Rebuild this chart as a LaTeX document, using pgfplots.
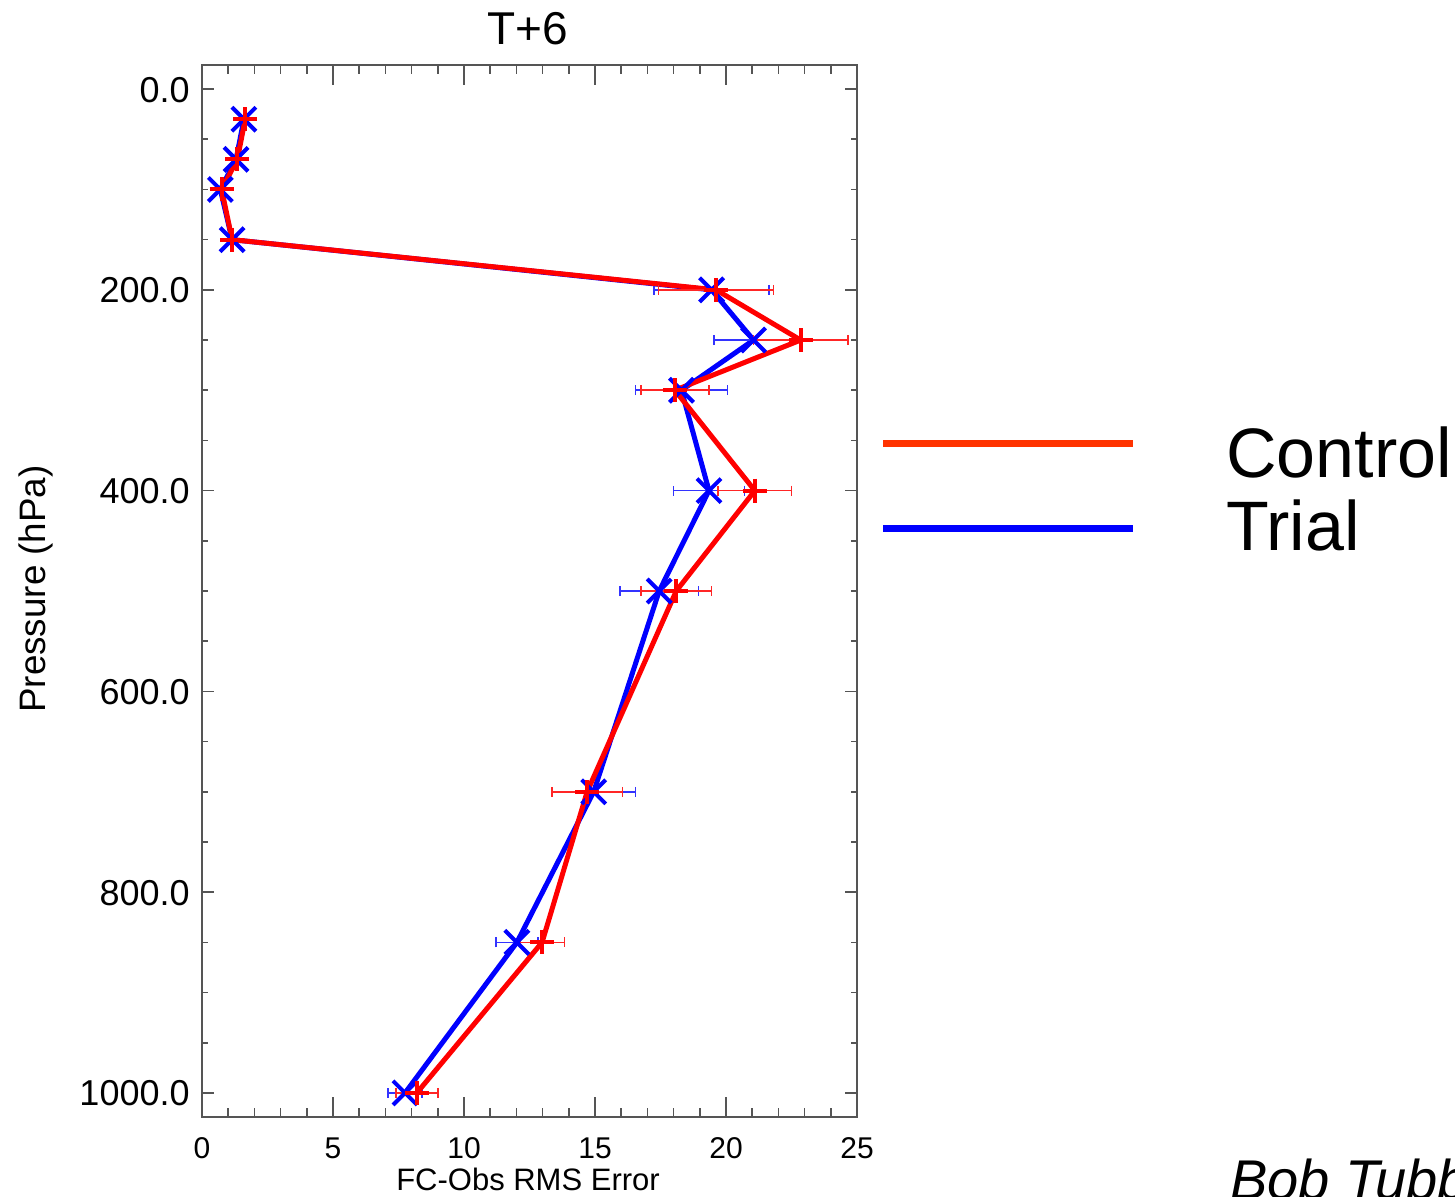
\documentclass[border=0pt]{standalone}
\usepackage{fontspec}
\setmainfont{Liberation Sans}
\usepackage{pgfplots}
\pgfplotsset{compat=1.18}
\definecolor{legred}{HTML}{FF3300}
\definecolor{axgray}{HTML}{555555}
\begin{document}
\begin{tikzpicture}
% main axis: data + y ticks
\begin{axis}[
  at={(101pt,-558.5pt)}, anchor=south west,
  scale only axis, width=327.5pt, height=526pt,
  xmin=0, xmax=25, ymin=-24, ymax=1024, y dir=reverse,
  axis line style={axgray, line width=1pt},
  xmajorticks=false, xminorticks=false,
  ytick={0,200,400,600,800,1000},
  minor y tick num=3,
  tick align=inside,
  major tick length=6pt, minor tick length=3pt,
  every tick/.style={axgray, line width=0.8pt},
  /pgf/number format/assume math mode=true,
  yticklabel style={/pgf/number format/.cd, fixed, fixed zerofill, precision=1, 1000 sep={}, /tikz/.cd,
     font=\fontsize{18}{20}\selectfont, inner sep=0pt, anchor=base east, xshift=-6pt, yshift=-6.5pt},
  clip=false,
]
% Trial (blue)
\addplot[blue, line width=2.5pt, mark=x, mark size=8.5pt, mark options={line width=2pt, solid},
  error bars/.cd, x dir=both, x explicit, error mark=|,
  error bar style={blue!80!white, line width=0.8pt},
  error mark options={blue!80!white, line width=0.8pt, mark size=2.5pt}]
coordinates {
(1.6,30) +- (0,0)
(1.3,70) +- (0,0)
(0.7,100) +- (0,0)
(1.15,150) +- (0,0)
(19.45,200) +- (2.2,0)
(21.05,250) +- (1.5,0)
(18.3,300) +- (1.75,0)
(19.35,400) +- (1.35,0)
(17.45,500) +- (1.5,0)
(14.95,700) +- (1.6,0)
(12.02,850) +- (0.8,0)
(7.75,1000) +- (0.65,0)
};
% Control (red)
\addplot[red, line width=2.5pt, mark=+, mark size=6pt, mark options={line width=2pt, solid},
  error bars/.cd, x dir=both, x explicit, error mark=|,
  error bar style={red!85!white, line width=0.8pt},
  error mark options={red!85!white, line width=0.8pt, mark size=2.5pt}]
coordinates {
(1.65,30) +- (0,0)
(1.35,70) +- (0,0)
(0.75,100) +- (0,0)
(1.15,150) +- (0,0)
(19.62,200) +- (2.2,0)
(22.85,250) +- (1.8,0)
(18.05,300) +- (1.3,0)
(21.1,400) +- (1.4,0)
(18.1,500) +- (1.35,0)
(14.7,700) +- (1.35,0)
(12.98,850) +- (0.85,0)
(8.2,1000) +- (0.8,0)
};
\end{axis}
% second axis: x ticks only
\begin{axis}[
  at={(101pt,-558.5pt)}, anchor=south west,
  scale only axis, width=327.5pt, height=526pt,
  xmin=0, xmax=25, ymin=-24, ymax=1024, y dir=reverse,
  axis line style={axgray, line width=1pt},
  ymajorticks=false, yminorticks=false,
  xtick={0,5,10,15,20,25},
  minor x tick num=4,
  tick align=inside,
  major tick length=10pt, minor tick length=4.5pt,
  every tick/.style={axgray, line width=0.8pt},
  /pgf/number format/assume math mode=true,
  xticklabel style={font=\fontsize{15}{17}\selectfont, inner sep=0pt, anchor=base, yshift=-20.5pt},
]
\end{axis}
\begin{scope}[x=0.5pt, y=-0.5pt]
\node[anchor=base, inner sep=0pt, font=\fontsize{23}{26}\selectfont] at (528,45) {T+6};
\node[anchor=base, inner sep=0pt, font=\fontsize{15.5}{17}\selectfont] at (528,1190) {FC-Obs RMS Error};
\node[anchor=base, inner sep=0pt, rotate=90, font=\fontsize{18.4}{20}\selectfont] at (46,589) {Pressure (hPa)};
\draw[legred, line width=3.5pt] (883,444) -- (1133,444);
\draw[blue, line width=3.5pt] (883,528) -- (1133,528);
\node[anchor=base west, inner sep=0pt, font=\fontsize{35}{40}\selectfont] at (1226,478) {Control};
\node[anchor=base west, inner sep=0pt, font=\fontsize{35}{40}\selectfont] at (1226,550) {Trial};
\node[anchor=base west, inner sep=0pt, font=\fontsize{28}{32}\selectfont\itshape] at (1230,1199) {Bob Tubbs};
\pgfresetboundingbox
\useasboundingbox (0,0) rectangle (1455,1197);
\end{scope}
\end{tikzpicture}
\end{document}
